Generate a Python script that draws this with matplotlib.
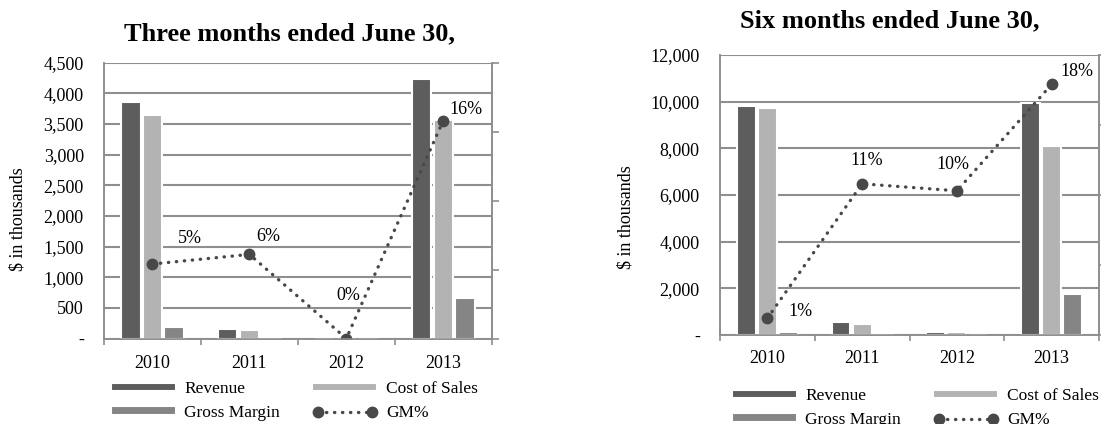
import numpy as np
import matplotlib
matplotlib.use("Agg")
import matplotlib.pyplot as plt
from matplotlib.ticker import FuncFormatter, MultipleLocator

plt.rcParams["font.family"] = ["Liberation Serif", "DejaVu Serif"]

years = ["2010", "2011", "2012", "2013"]

# Three months ended June 30 ($ in thousands)
q_revenue = [3855, 155, 0, 4235]
q_cost = [3648, 145, 0, 3560]
q_margin = [195, 10, 0, 660]
q_gm_pct = [0.054, 0.061, 0.0, 0.158]

# Six months ended June 30 ($ in thousands)
h_revenue = [9825, 545, 130, 9930]
h_cost = [9715, 485, 117, 8115]
h_margin = [110, 60, 13, 1760]
h_gm_pct = [0.012, 0.108, 0.103, 0.179]

REV_C = "#5d5d5d"
COST_C = "#b3b3b3"
GM_C = "#858585"
LINE_C = "#484848"
GRID_C = "#8e8e8e"
FS = 13


def thousands(v, pos):
    return "-" if v == 0 else f"{v:,.0f}"


def draw(ax, revenue, cost, margin, gm_pct, ymax, ystep, offsets, xpad):
    x = np.arange(len(years))
    w, step = 0.2, 0.223
    bar_kw = dict(edgecolor="white", linewidth=1.5, zorder=3)
    ax.bar(x - step, revenue, w, color=REV_C, label="Revenue", **bar_kw)
    ax.bar(x, cost, w, color=COST_C, label="Cost of Sales", **bar_kw)
    ax.bar(x + step, margin, w, color=GM_C, label="Gross Margin", **bar_kw)

    ax.set_xlim(-0.5, len(years) - 0.5)
    ax.set_ylim(0, ymax)
    ax.yaxis.set_major_locator(MultipleLocator(ystep))
    ax.yaxis.set_major_formatter(FuncFormatter(thousands))
    ax.grid(axis="y", color=GRID_C, linewidth=1.5, zorder=0)
    ax.set_axisbelow(True)

    ax.set_xticks(x, years)
    ax.set_xticks(np.arange(-0.5, len(years), 1), minor=True)
    ax.tick_params(axis="x", which="major", length=0, pad=xpad, labelsize=FS)
    ax.tick_params(axis="x", which="minor", length=4, width=1.2,
                   color=GRID_C, direction="out")
    ax.tick_params(axis="y", length=0, pad=14.5, labelsize=FS)

    ax2 = ax.twinx()
    ax2.plot(x, gm_pct, color=LINE_C, linestyle=(0, (0.1, 2.3)),
             linewidth=2.4, dash_capstyle="round", marker="o",
             markersize=7.5, label="GM%")
    ax2.set_ylim(0, 0.2)
    ax2.yaxis.set_major_locator(MultipleLocator(0.05))
    ax2.tick_params(axis="y", length=5, width=1.2, color=GRID_C,
                    direction="out", labelright=False)
    for a in (ax, ax2):
        for s in a.spines.values():
            s.set_color(GRID_C)
            s.set_linewidth(1.2)
        a.spines["top"].set_visible(False)

    for xi, v, off in zip(x, gm_pct, offsets):
        ax2.annotate(f"{v:.0%}", (xi, v), xytext=off, textcoords="offset pixels",
                     ha="center", va="center", fontsize=FS)
    return ax2


fig = plt.figure(figsize=(11.01, 4.24), dpi=100)

ax_q = fig.add_axes([104 / 1101, 1 - 338.5 / 424, 387.7 / 1101, 275.8 / 424])
ax_h = fig.add_axes([720 / 1101, 1 - 335 / 424, 379 / 1101, 280 / 424])

q2 = draw(ax_q, q_revenue, q_cost, q_margin, q_gm_pct, 4500, 500,
          [(37, 26), (19, 18), (2, 43), (23, 11)], 12.2)
h2 = draw(ax_h, h_revenue, h_cost, h_margin, h_gm_pct, 12000, 2000,
          [(33, 7), (5, 23), (-4, 26), (25, 13)], 10.7)

fig.text(289 / 1101, 1 - 33.5 / 424, "Three months ended June 30,",
         ha="center", va="center", fontsize=19, fontweight="bold")
fig.text(890 / 1101, 1 - 21 / 424, "Six months ended June 30,",
         ha="center", va="center", fontsize=19, fontweight="bold")
fig.text(17.6 / 1101, 1 - 219.5 / 424, "$ in thousands", rotation=90,
         ha="center", va="center", fontsize=FS)
fig.text(625.5 / 1101, 1 - 217 / 424, "$ in thousands", rotation=90,
         ha="center", va="center", fontsize=FS)

for ax, ax2, x0, y0 in ((ax_q, q2, 110.7, 381), (ax_h, h2, 731.7, 388)):
    bars, names = ax.get_legend_handles_labels()
    line, lname = ax2.get_legend_handles_labels()
    handles = [bars[0], bars[2], bars[1], line[0]]
    labels = [names[0], names[2], names[1], lname[0]]
    fig.legend(handles, labels, ncol=2, loc="upper left",
               bbox_to_anchor=(x0 / 1101, 1 - y0 / 424), frameon=False,
               fontsize=12.5, handlelength=3.75, handleheight=0.35,
               handletextpad=0.5, columnspacing=1.85, labelspacing=0.45,
               borderpad=0, borderaxespad=0, numpoints=2)

fig.savefig("out.png", dpi=100)
